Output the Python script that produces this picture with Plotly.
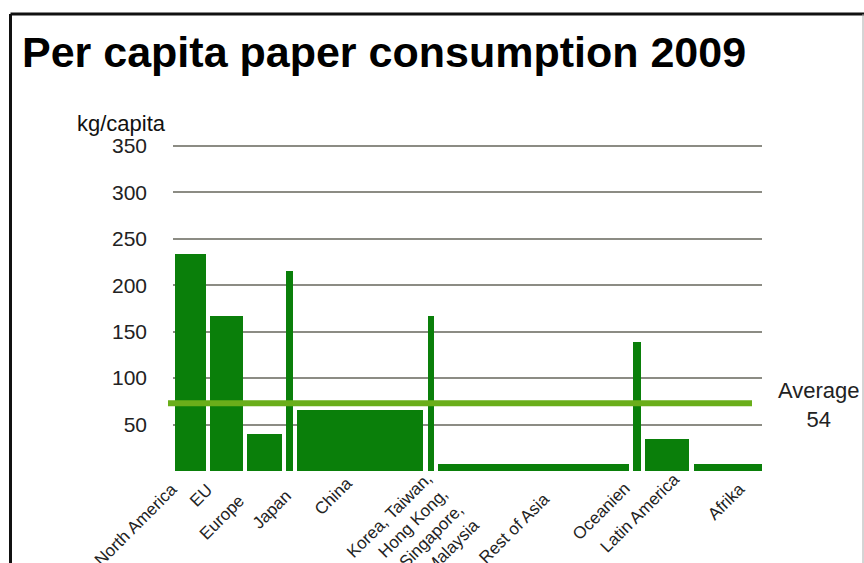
import plotly.graph_objects as go

# ---- data ----
regions = ["North America", "EU", "Europe", "Japan", "China",
           "Korea, Taiwan,<br>Hong Kong,<br>Singapore,<br>Malaysia",
           "Rest of Asia", "Oceanien", "Latin America", "Afrika"]
consumption = [234, 167, 40, 215, 66, 167, 8, 139, 34, 8]          # kg/capita
pop_width = [30.7, 32.7, 34.3, 6.3, 126, 6, 190.7, 7.4, 44, 70.4]  # relative population (bar widths)
average_value = 73      # level of the drawn average line
average_label = "Average<br>54"
y_ticks = [50, 100, 150, 200, 250, 300, 350]

# ---- layout constants ----
W, H = 864, 563
L, R, T, B = 173, 102, 118, 92
PW, PH = W - L - R, H - T - B
GAP = 4.5
START = 2
Y_MAX = 380
# label placement tweaks (px): horizontal shift of text end from bar centre, drop below axis
label_dx = [-15, -16, -22, 0, -10, 0, 14, -9, 11, 14]
label_dy = [12, 12, 24, 19, 6, 1, 22, 11, 1, 11]
XFS = 17

lefts = []
pos = START
for w in pop_width:
    lefts.append(pos)
    pos += w + GAP
centers = [l + w / 2 for l, w in zip(lefts, pop_width)]

FONT = "Liberation Sans, Arial, sans-serif"

fig = go.Figure()
fig.add_trace(go.Bar(
    x=centers, y=consumption, width=pop_width,
    marker=dict(color="#0a7f0a", line=dict(width=0)),
    hovertext=[r.replace("<br>", " ") for r in regions],
    showlegend=False,
))


def px_x(px):
    return (px - L) / PW


def px_y(py):
    return (H - B - py) / PH


# average line
fig.add_shape(type="line", xref="paper", yref="y",
              x0=px_x(168), x1=px_x(752), y0=average_value, y1=average_value,
              line=dict(color="#6aae1a", width=6), layer="above")

# frame
fig.add_shape(type="line", xref="paper", yref="paper",
              x0=px_x(10.5), x1=px_x(864), y0=px_y(14), y1=px_y(14),
              line=dict(color="#111", width=3))
fig.add_shape(type="line", xref="paper", yref="paper",
              x0=px_x(10.5), x1=px_x(10.5), y0=px_y(14), y1=px_y(563),
              line=dict(color="#111", width=3))
fig.add_shape(type="line", xref="paper", yref="paper",
              x0=px_x(863), x1=px_x(863), y0=px_y(14), y1=px_y(563),
              line=dict(color="#aaa", width=1))

# rotated category labels
line_h = XFS * 1.3
for c, name, dx, dy in zip(centers, regions, label_dx, label_dy):
    n = name.count("<br>") + 1
    fig.add_annotation(text=name, xref="x", yref="paper",
                       x=c + dx + 0.707 * line_h * n - 7, y=px_y(471 + dy - 6),
                       showarrow=False, textangle=-45, align="right",
                       xanchor="right", yanchor="top",
                       font=dict(family=FONT, size=XFS, color="#222"))

fig.add_annotation(text="kg/capita", xref="paper", yref="paper",
                   x=px_x(121), y=px_y(123), showarrow=False,
                   xanchor="center", yanchor="middle",
                   font=dict(family=FONT, size=22, color="#111"))
fig.add_annotation(text=average_label, xref="paper", yref="y",
                   x=px_x(819), y=average_value - 2, showarrow=False,
                   xanchor="center", yanchor="middle", align="center",
                   font=dict(family=FONT, size=22, color="#222"))

fig.update_layout(
    width=W, height=H,
    margin=dict(l=L, r=R, t=T, b=B),
    paper_bgcolor="white", plot_bgcolor="white",
    bargap=0,
    title=dict(text="Per capita paper consumption 2009",
               xref="container", yref="container",
               x=22 / W, y=1 - 52 / H, xanchor="left", yanchor="middle",
               font=dict(family=FONT, size=43, color="black", weight="bold")),
    xaxis=dict(range=[0, PW], showticklabels=False,
               showgrid=False, zeroline=False, showline=False,
               ticks="", automargin=False),
    yaxis=dict(range=[0, Y_MAX], tickvals=y_ticks,
               showgrid=True, gridcolor="#8c8c84", gridwidth=2,
               zeroline=False, showline=False, ticks="", automargin=False,
               ticklabelstandoff=25,
               tickfont=dict(family=FONT, size=21, color="#222")),
)

fig.write_html("out.html")
